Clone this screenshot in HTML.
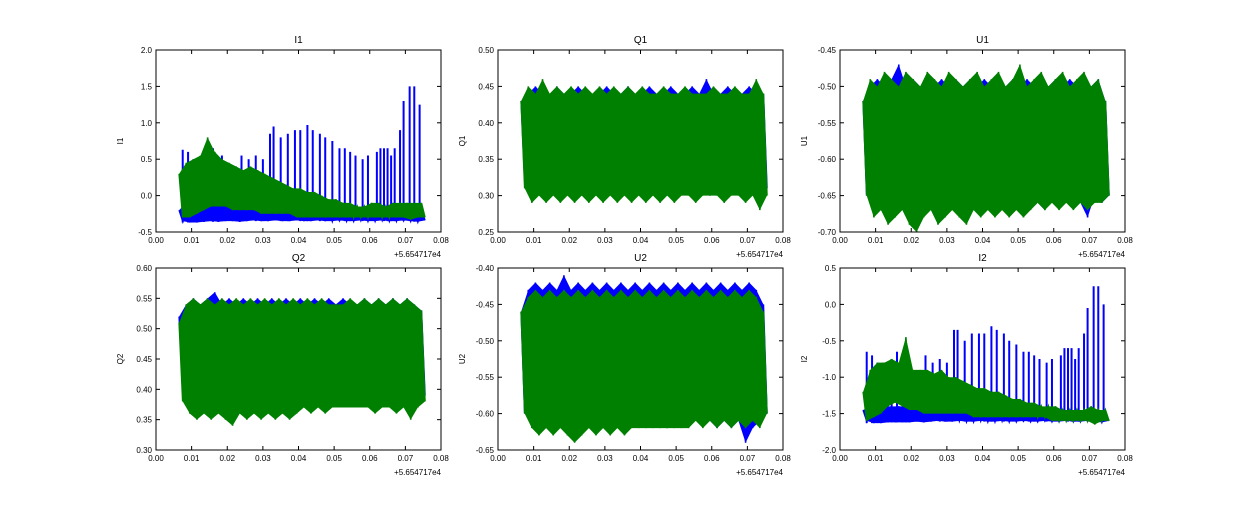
<!DOCTYPE html>
<html><head><meta charset="utf-8"><style>
body{margin:0;background:#fff;width:1250px;height:500px;overflow:hidden}
svg text{font-family:"Liberation Sans",sans-serif;fill:#000}
</style></head><body>
<svg id="fig" width="1250" height="500" xmlns="http://www.w3.org/2000/svg"></svg>
<script>
// x positions (data, offset from 5.654717e4)
const xStart = 0.0065, xStep = 0.002;
const xTicks = ["0.00","0.01","0.02","0.03","0.04","0.05","0.06","0.07","0.08"];
// I1
const i1BlueHi = [-0.2,-0.1,-0.1,-0.1,-0.1,-0.1,-0.1,-0.1,-0.1,-0.1,-0.1,-0.1,-0.1,-0.1,-0.15,-0.15,-0.15,-0.15,-0.15,-0.15,-0.15,-0.15,-0.2,-0.2,-0.2,-0.2,-0.2,-0.2,-0.2,-0.2,-0.2,-0.2,-0.2,-0.2,-0.2];
const i1BlueLo = [-0.35,-0.37,-0.37,-0.36,-0.35,-0.36,-0.35,-0.35,-0.36,-0.35,-0.34,-0.35,-0.35,-0.34,-0.35,-0.35,-0.34,-0.35,-0.35,-0.34,-0.35,-0.35,-0.34,-0.35,-0.35,-0.34,-0.35,-0.35,-0.34,-0.35,-0.35,-0.34,-0.35,-0.36,-0.34];
const i1SpikeX = [0.0075,0.009,0.0105,0.012,0.0145,0.016,0.0185,0.024,0.026,0.028,0.030,0.032,0.033,0.035,0.037,0.039,0.0405,0.0425,0.044,0.046,0.0475,0.0495,0.0515,0.053,0.0545,0.056,0.058,0.0595,0.062,0.063,0.064,0.065,0.066,0.067,0.0685,0.0695,0.0712,0.0725,0.074];
const i1SpikeY = [0.63,0.6,0.5,0.5,0.55,0.65,0.55,0.55,0.5,0.55,0.5,0.85,0.95,0.8,0.85,0.9,0.9,0.97,0.9,0.85,0.8,0.75,0.65,0.65,0.6,0.55,0.5,0.55,0.6,0.65,0.65,0.65,0.55,0.65,0.9,1.3,1.5,1.5,1.25];
const i1GreenHi = [0.3,0.45,0.5,0.55,0.8,0.6,0.5,0.45,0.4,0.35,0.4,0.35,0.3,0.25,0.2,0.15,0.1,0.1,0.05,0.05,0.0,-0.05,-0.05,-0.1,-0.1,-0.15,-0.15,-0.1,-0.1,-0.15,-0.1,-0.1,-0.1,-0.1,-0.1];
const i1GreenLo = [-0.3,-0.3,-0.25,-0.2,-0.15,-0.15,-0.15,-0.2,-0.2,-0.2,-0.2,-0.25,-0.25,-0.25,-0.25,-0.25,-0.3,-0.3,-0.3,-0.3,-0.3,-0.3,-0.3,-0.3,-0.3,-0.3,-0.3,-0.3,-0.3,-0.3,-0.3,-0.3,-0.33,-0.3,-0.3];
// Q1
const q1BlueHi = [0.43,0.44,0.45,0.44,0.43,0.45,0.44,0.44,0.45,0.44,0.43,0.44,0.45,0.44,0.44,0.45,0.44,0.44,0.45,0.44,0.44,0.45,0.44,0.44,0.45,0.44,0.46,0.44,0.44,0.45,0.44,0.44,0.45,0.44,0.44];
const q1BlueLo = [0.32,0.31,0.31,0.32,0.31,0.31,0.32,0.31,0.31,0.32,0.31,0.31,0.32,0.31,0.31,0.32,0.31,0.31,0.32,0.31,0.31,0.32,0.31,0.31,0.32,0.31,0.30,0.31,0.31,0.32,0.31,0.31,0.32,0.31,0.31];
const q1GreenHi = [0.43,0.45,0.44,0.46,0.44,0.45,0.44,0.45,0.44,0.45,0.44,0.45,0.44,0.45,0.44,0.45,0.44,0.45,0.44,0.44,0.45,0.44,0.44,0.45,0.44,0.44,0.44,0.45,0.44,0.44,0.45,0.44,0.44,0.46,0.44];
const q1GreenLo = [0.31,0.29,0.30,0.29,0.30,0.29,0.30,0.29,0.30,0.29,0.30,0.29,0.30,0.29,0.30,0.29,0.30,0.29,0.30,0.29,0.30,0.29,0.30,0.30,0.29,0.30,0.30,0.30,0.29,0.30,0.30,0.29,0.30,0.28,0.30];
// U1
const u1BlueHi = [-0.52,-0.50,-0.49,-0.50,-0.49,-0.47,-0.50,-0.49,-0.50,-0.49,-0.50,-0.49,-0.50,-0.49,-0.50,-0.49,-0.50,-0.49,-0.50,-0.49,-0.50,-0.49,-0.50,-0.49,-0.50,-0.49,-0.50,-0.49,-0.50,-0.49,-0.50,-0.49,-0.50,-0.49,-0.52];
const u1BlueLo = [-0.65,-0.66,-0.66,-0.65,-0.66,-0.66,-0.65,-0.66,-0.66,-0.65,-0.66,-0.66,-0.65,-0.66,-0.66,-0.65,-0.66,-0.66,-0.65,-0.66,-0.66,-0.65,-0.66,-0.66,-0.66,-0.67,-0.65,-0.66,-0.66,-0.65,-0.66,-0.68,-0.65,-0.66,-0.65];
const u1GreenHi = [-0.52,-0.49,-0.50,-0.48,-0.49,-0.50,-0.48,-0.49,-0.50,-0.48,-0.49,-0.50,-0.48,-0.49,-0.50,-0.49,-0.48,-0.50,-0.49,-0.48,-0.50,-0.49,-0.47,-0.50,-0.49,-0.48,-0.50,-0.49,-0.48,-0.50,-0.49,-0.48,-0.50,-0.49,-0.52];
const u1GreenLo = [-0.65,-0.68,-0.67,-0.69,-0.68,-0.67,-0.69,-0.70,-0.68,-0.67,-0.69,-0.68,-0.67,-0.68,-0.69,-0.67,-0.68,-0.67,-0.68,-0.67,-0.68,-0.67,-0.68,-0.67,-0.66,-0.67,-0.66,-0.67,-0.66,-0.67,-0.66,-0.67,-0.66,-0.66,-0.65];
// Q2
const q2BlueHi = [0.52,0.54,0.55,0.54,0.55,0.56,0.54,0.55,0.54,0.55,0.54,0.55,0.54,0.55,0.54,0.55,0.54,0.55,0.54,0.55,0.54,0.55,0.54,0.55,0.54,0.54,0.55,0.54,0.55,0.54,0.55,0.54,0.55,0.54,0.53];
const q2BlueLo = [0.40,0.38,0.38,0.37,0.38,0.38,0.37,0.38,0.38,0.37,0.38,0.38,0.37,0.38,0.38,0.37,0.38,0.38,0.37,0.38,0.38,0.38,0.38,0.38,0.38,0.38,0.38,0.38,0.38,0.37,0.38,0.38,0.37,0.38,0.39];
const q2GreenHi = [0.51,0.54,0.55,0.54,0.55,0.54,0.55,0.54,0.55,0.54,0.55,0.54,0.55,0.54,0.55,0.54,0.55,0.54,0.55,0.54,0.55,0.54,0.54,0.54,0.55,0.54,0.55,0.54,0.55,0.54,0.55,0.54,0.55,0.54,0.53];
const q2GreenLo = [0.38,0.36,0.35,0.36,0.35,0.36,0.35,0.34,0.36,0.35,0.36,0.35,0.36,0.35,0.36,0.35,0.36,0.37,0.36,0.37,0.36,0.37,0.37,0.37,0.37,0.37,0.37,0.36,0.37,0.37,0.36,0.37,0.35,0.37,0.38];
// U2
const u2BlueHi = [-0.46,-0.43,-0.42,-0.43,-0.42,-0.43,-0.41,-0.43,-0.42,-0.43,-0.42,-0.43,-0.42,-0.43,-0.42,-0.43,-0.42,-0.43,-0.42,-0.43,-0.42,-0.43,-0.42,-0.43,-0.42,-0.43,-0.42,-0.43,-0.42,-0.43,-0.42,-0.43,-0.42,-0.43,-0.45];
const u2BlueLo = [-0.60,-0.61,-0.61,-0.60,-0.61,-0.61,-0.60,-0.61,-0.61,-0.60,-0.61,-0.61,-0.60,-0.61,-0.61,-0.60,-0.61,-0.61,-0.60,-0.61,-0.62,-0.61,-0.60,-0.61,-0.61,-0.60,-0.61,-0.62,-0.61,-0.62,-0.61,-0.64,-0.62,-0.61,-0.60];
const u2GreenHi = [-0.46,-0.44,-0.43,-0.44,-0.43,-0.44,-0.43,-0.44,-0.43,-0.44,-0.43,-0.44,-0.43,-0.44,-0.43,-0.44,-0.43,-0.44,-0.43,-0.44,-0.43,-0.44,-0.43,-0.44,-0.43,-0.44,-0.43,-0.44,-0.43,-0.44,-0.43,-0.44,-0.43,-0.44,-0.46];
const u2GreenLo = [-0.60,-0.62,-0.63,-0.62,-0.63,-0.62,-0.63,-0.64,-0.63,-0.62,-0.63,-0.62,-0.63,-0.62,-0.63,-0.62,-0.62,-0.62,-0.62,-0.62,-0.62,-0.62,-0.62,-0.62,-0.61,-0.62,-0.61,-0.62,-0.61,-0.62,-0.61,-0.62,-0.61,-0.62,-0.60];
// I2
const i2BlueHi = [-1.45,-1.4,-1.4,-1.4,-1.4,-1.4,-1.4,-1.4,-1.4,-1.4,-1.4,-1.4,-1.4,-1.4,-1.45,-1.45,-1.45,-1.45,-1.45,-1.45,-1.45,-1.45,-1.5,-1.5,-1.5,-1.5,-1.5,-1.5,-1.5,-1.5,-1.5,-1.5,-1.5,-1.5,-1.5];
const i2BlueLo = [-1.6,-1.63,-1.63,-1.62,-1.62,-1.62,-1.62,-1.61,-1.62,-1.61,-1.6,-1.61,-1.61,-1.6,-1.61,-1.61,-1.6,-1.61,-1.61,-1.6,-1.61,-1.61,-1.6,-1.61,-1.61,-1.6,-1.61,-1.61,-1.6,-1.61,-1.61,-1.6,-1.61,-1.62,-1.6];
const i2SpikeX = [0.0075,0.009,0.0105,0.012,0.0145,0.016,0.0185,0.024,0.026,0.028,0.030,0.032,0.033,0.035,0.037,0.039,0.0405,0.0425,0.044,0.046,0.0475,0.0495,0.0515,0.053,0.0545,0.056,0.058,0.0595,0.062,0.063,0.064,0.065,0.066,0.067,0.0685,0.0695,0.0712,0.0725,0.074];
const i2SpikeY = [-0.65,-0.7,-0.8,-0.8,-0.75,-0.65,-0.75,-0.7,-0.8,-0.75,-0.8,-0.35,-0.35,-0.5,-0.4,-0.4,-0.4,-0.3,-0.35,-0.4,-0.5,-0.55,-0.65,-0.65,-0.7,-0.75,-0.8,-0.75,-0.7,-0.6,-0.6,-0.6,-0.75,-0.6,-0.4,-0.05,0.25,0.25,0.0];
const i2GreenHi = [-1.2,-0.9,-0.8,-0.8,-0.75,-0.8,-0.45,-0.9,-0.9,-0.9,-0.95,-0.9,-1.0,-1.0,-1.05,-1.1,-1.15,-1.15,-1.2,-1.2,-1.25,-1.3,-1.3,-1.35,-1.35,-1.4,-1.4,-1.4,-1.45,-1.45,-1.45,-1.45,-1.4,-1.45,-1.45];
const i2GreenLo = [-1.6,-1.55,-1.5,-1.4,-1.35,-1.4,-1.45,-1.45,-1.5,-1.5,-1.5,-1.5,-1.5,-1.5,-1.5,-1.55,-1.55,-1.55,-1.55,-1.55,-1.55,-1.55,-1.55,-1.55,-1.55,-1.55,-1.6,-1.6,-1.6,-1.6,-1.6,-1.6,-1.65,-1.6,-1.6];

const panels = [
 {name:"I1",l:156,t:50,ymin:-0.5,ymax:2.0,yt:["-0.5","0.0","0.5","1.0","1.5","2.0"],b:[i1BlueHi,i1BlueLo],g:[i1GreenHi,i1GreenLo],sx:i1SpikeX,sy:i1SpikeY},
 {name:"Q1",l:498,t:50,ymin:0.25,ymax:0.5,yt:["0.25","0.30","0.35","0.40","0.45","0.50"],b:[q1BlueHi,q1BlueLo],g:[q1GreenHi,q1GreenLo]},
 {name:"U1",l:840,t:50,ymin:-0.7,ymax:-0.45,yt:["-0.70","-0.65","-0.60","-0.55","-0.50","-0.45"],b:[u1BlueHi,u1BlueLo],g:[u1GreenHi,u1GreenLo]},
 {name:"Q2",l:156,t:268,ymin:0.3,ymax:0.6,yt:["0.30","0.35","0.40","0.45","0.50","0.55","0.60"],b:[q2BlueHi,q2BlueLo],g:[q2GreenHi,q2GreenLo]},
 {name:"U2",l:498,t:268,ymin:-0.65,ymax:-0.4,yt:["-0.65","-0.60","-0.55","-0.50","-0.45","-0.40"],b:[u2BlueHi,u2BlueLo],g:[u2GreenHi,u2GreenLo]},
 {name:"I2",l:840,t:268,ymin:-2.0,ymax:0.5,yt:["-2.0","-1.5","-1.0","-0.5","0.0","0.5"],b:[i2BlueHi,i2BlueLo],g:[i2GreenHi,i2GreenLo],sx:i2SpikeX,sy:i2SpikeY}
];
const W=285,H=182,NS="http://www.w3.org/2000/svg";
const svg=document.getElementById('fig');
function mk(tag,attrs,parent){const e=document.createElementNS(NS,tag);for(const k in attrs)e.setAttribute(k,attrs[k]);(parent||svg).appendChild(e);return e;}
panels.forEach(p=>{
  const g=mk('g',{});
  
  
  const xs=v=>p.l+v/0.08*W;
  const ys=v=>p.t+H-(v-p.ymin)/(p.ymax-p.ymin)*H;
  const clipId='c'+p.name;
  const cp=mk('clipPath',{id:clipId},g);mk('rect',{x:p.l,y:p.t,width:W,height:H},cp);
  const layers=[[p.b,'#0000ff','blue'],[p.g,'#008000','green']];
  layers.forEach(([s,col,nm],li)=>{
    const top=s[0].map((v,i)=>xs(xStart+i*xStep)+','+ys(v));
    const bot=s[1].map((v,i)=>xs(xStart+i*xStep+xStep/2)+','+ys(v)).reverse();
    const band=mk('polygon',{points:top.concat(bot).join(' '),fill:col,stroke:'none','clip-path':'url(#'+clipId+')'},g);
    
    
    let pts=[];
    s[0].forEach((hi,i)=>{const x=xStart+i*xStep;pts.push(xs(x)+','+ys(hi));pts.push(xs(x+xStep/2)+','+ys(s[1][i]));});
    const pl=mk('polyline',{points:pts.join(' '),fill:'none',stroke:col,'stroke-width':1.6,'clip-path':'url(#'+clipId+')'},g);
    
    
    if(li===0 && p.sx){
      p.sx.forEach((x,i)=>{
        const k=Math.min(s[1].length-1,Math.max(0,Math.round((x-xStart)/xStep)));
        const sp=mk('line',{x1:xs(x),x2:xs(x),y1:ys(s[1][k]),y2:ys(p.sy[i]),stroke:col,'stroke-width':2,'clip-path':'url(#'+clipId+')'},g);
        
        
      });
    }
  });
  const fr=mk('rect',{x:p.l,y:p.t,width:W,height:H,fill:'none',stroke:'#000','stroke-width':1},g);
  
  
  xTicks.forEach(t=>{const x=xs(parseFloat(t));
    mk('line',{x1:x,x2:x,y1:p.t+H,y2:p.t+H-4,stroke:'#000'},g);
    mk('line',{x1:x,x2:x,y1:p.t,y2:p.t+4,stroke:'#000'},g);
    const tx=mk('text',{x:x,y:p.t+H+11,'font-size':8,'text-anchor':'middle'},g);tx.textContent=t;
    
    
  });
  p.yt.forEach(t=>{const y=ys(parseFloat(t));
    mk('line',{x1:p.l,x2:p.l+4,y1:y,y2:y,stroke:'#000'},g);
    mk('line',{x1:p.l+W,x2:p.l+W-4,y1:y,y2:y,stroke:'#000'},g);
    const tx=mk('text',{x:p.l-4,y:y+3,'font-size':8,'text-anchor':'end'},g);tx.textContent=t;
    
    
  });
  const ti=mk('text',{x:p.l+W/2,y:p.t-7,'font-size':10,'text-anchor':'middle'},g);ti.textContent=p.name;
  
  
  const yl=mk('text',{x:0,y:0,'font-size':8,'text-anchor':'middle',transform:`translate(${p.l-33},${p.t+H/2}) rotate(-90)`},g);yl.textContent=p.name;
  
  
  const off=mk('text',{x:p.l+W,y:p.t+H+25,'font-size':8,'text-anchor':'end'},g);off.textContent='+5.654717e4';
  
  
});
</script>
</body></html>
